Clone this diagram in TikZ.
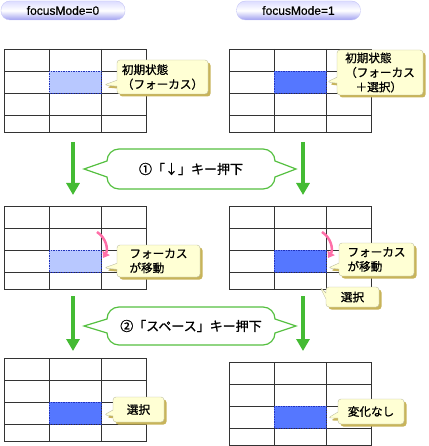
\documentclass[tikz,border=0pt]{standalone}
\usepackage{fontspec}
\setmainfont{Liberation Sans}[FakeBold=0.6]
\newfontfamily\jp{Noto Sans CJK JP}[FakeBold=0.9]
\usetikzlibrary{arrows.meta,shapes.callouts,shadows}

\definecolor{gridgray}{HTML}{333333}
\definecolor{lightsel}{HTML}{B8C8FF}
\definecolor{strongsel}{HTML}{5577FF}
\definecolor{selborder}{HTML}{2233BB}
\definecolor{memofill}{HTML}{FFFFD4}
\definecolor{memoline}{HTML}{BDBDA0}
\definecolor{memoshadow}{HTML}{C8B45A}
\definecolor{downgreen}{HTML}{44BB33}
\definecolor{bubblegreen}{HTML}{55C040}
\definecolor{movepink}{HTML}{FF6FA8}
\definecolor{pilltop}{HTML}{DCDCFF}
\definecolor{pillbottom}{HTML}{A0A0F0}

\tikzset{
  gridline/.style={draw=gridgray, line width=0.9pt},
  lightcell/.style={fill=lightsel, draw=selborder, dashed, dash pattern=on 1.5pt off 1pt, line width=0.5pt},
  darkcell/.style={fill=strongsel, draw=selborder, dashed, dash pattern=on 1.5pt off 1pt, line width=0.5pt},
  modepill/.style={rounded corners=9pt, top color=pilltop, bottom color=pillbottom, middle color=white,
    draw=pillbottom!60, minimum width=124pt, minimum height=19pt, font=\fontsize{12}{14}\selectfont},
  memo/.style={rectangle callout, rounded corners=3pt, draw=memoline, fill=memofill,
    callout pointer width=6pt, inner sep=0pt, align=left,
    drop shadow={shadow xshift=2.5pt, shadow yshift=-2.5pt, fill=memoshadow, opacity=1},
    font=\jp\fontsize{11.6}{14.5}\selectfont},
  keybubble/.style={draw=bubblegreen, line width=1.2pt, fill=white},
  keytext/.style={font=\jp\fontsize{13}{15}\selectfont},
  downarrow/.style={draw=downgreen, line width=4pt, -{Triangle[width=13pt,length=12pt]}},
  movearrow/.style={draw=movepink, line width=2.5pt, -{Triangle[width=8pt,length=6pt]}}
}

\begin{document}
\begin{tikzpicture}[x=1pt, y=1pt]
\useasboundingbox (0,0) rectangle (428,-446);

%--- モード見出し ---
\node[modepill] (mode0) at (63,-10.5) {focusMode=0};
\node[modepill] (mode1) at (298.5,-10.5) {focusMode=1};

%--- 表（3列×4行） ---
\foreach \gx/\gy/\hr/\hs in {4/49/1/lightcell, 229/49/1/darkcell,
                            4/206/2/lightcell, 229/206/2/darkcell,
                            4/358/2/darkcell, 229/362/2/darkcell}{
  \draw[gridline] (\gx,-\gy) rectangle ++(142,-83);
  \foreach \c in {45,97}
    \draw[gridline] (\gx+\c,-\gy) -- ++(0,-83);
  \foreach \r in {22,44,66}
    \draw[gridline] (\gx,-\gy-\r) -- ++(142,0);
  \pgfmathsetmacro{\cy}{\gy+22*\hr}
  \draw[\hs] (\gx+45,-\cy) rectangle ++(52,-22);
}

%--- フォーカス移動 ---
\coordinate (turnLs) at (97,-232);
\coordinate (turnLe) at (103,-258);
\coordinate (turnRs) at (322,-232);
\coordinate (turnRe) at (328,-258);
\draw[movearrow] (turnLs) to[bend left=45] (turnLe);
\draw[movearrow] (turnRs) to[bend left=45] (turnRe);

%--- 下向き矢印 ---
\coordinate (downLa) at (73,-142);  \coordinate (downLb) at (73,-195);
\coordinate (downRa) at (303,-142); \coordinate (downRb) at (303,-195);
\coordinate (downLc) at (73,-296);  \coordinate (downLd) at (73,-351);
\coordinate (downRc) at (303,-296); \coordinate (downRd) at (303,-351);
\draw[downarrow] (downLa) -- (downLb);
\draw[downarrow] (downRa) -- (downRb);
\draw[downarrow] (downLc) -- (downLd);
\draw[downarrow] (downRc) -- (downRd);

%--- キー操作の吹き出し ---
\foreach \by/\bh/\txt/\nm in {149/40/{①「↓」キー押下}/keydown,
                              307/38/{②「スペース」キー押下}/keyspace}{
  \pgfmathsetmacro{\bm}{\by+\bh/2}
  \pgfmathsetmacro{\bt}{\by+12}
  \pgfmathsetmacro{\bb}{\by+\bh-12}
  \draw[keybubble] (119,-\by) -- (263,-\by)
    arc[start angle=90, end angle=0, radius=12pt] -- (296,-\bm) -- (275,-\bb)
    arc[start angle=0, end angle=-90, radius=12pt] -- (119,-\by-\bh)
    arc[start angle=270, end angle=180, radius=12pt] -- (84,-\bm) -- (107,-\bt)
    arc[start angle=180, end angle=90, radius=12pt] -- cycle;
  \node[keytext] (\nm) at (191,-\bm) {\txt};
}

%--- メモ ---
\coordinate (tipA) at (104,-85);
\coordinate (tipB) at (327,-82);
\coordinate (tipC) at (104,-268);
\coordinate (tipD) at (328,-268);
\coordinate (tipE) at (320,-287);
\coordinate (tipF) at (104,-415);
\coordinate (tipG) at (328,-418);

\node[memo, minimum width=91pt, minimum height=34pt, callout absolute pointer={(tipA)}]
  (initL) at (162.5,-77) {初期状態\\（フォーカス）};
\node[memo, minimum width=86pt, minimum height=45pt, callout absolute pointer={(tipB)}]
  (initR) at (380,-72.5) {初期状態\\（フォーカス\\\hspace*{0.9em}＋選択）};
\node[memo, minimum width=83pt, minimum height=32pt, callout absolute pointer={(tipC)}]
  (moveL) at (158.5,-261) {フォーカス\\が移動};
\node[memo, minimum width=75pt, minimum height=33pt, callout absolute pointer={(tipD)}]
  (moveR) at (376.5,-259.5) {フォーカス\\が移動};
\node[memo, minimum width=53pt, minimum height=20pt, callout absolute pointer={(tipE)}]
  (selR) at (352.5,-297) {選択};
\node[memo, minimum width=51pt, minimum height=25pt, callout absolute pointer={(tipF)}]
  (selL) at (138.5,-409.5) {選択};
\node[memo, minimum width=66pt, minimum height=25pt, callout absolute pointer={(tipG)}]
  (sameR) at (371,-411.5) {変化なし};

\end{tikzpicture}
\end{document}
